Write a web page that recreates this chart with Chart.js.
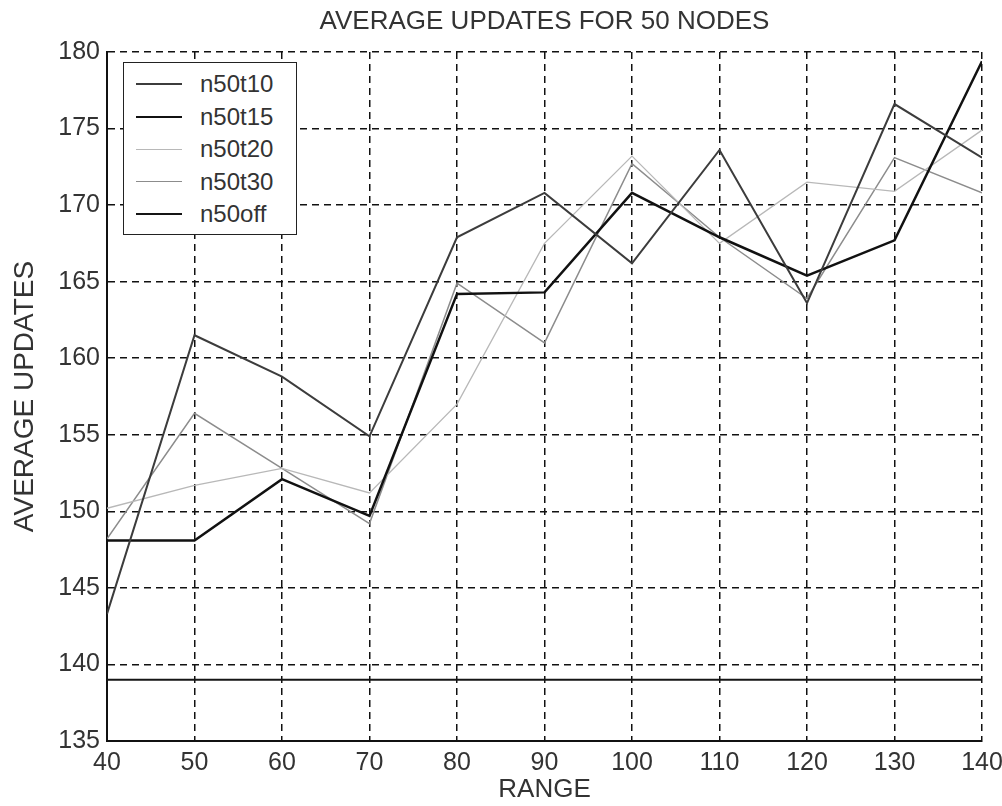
<!DOCTYPE html>
<html lang="en">
<head>
    <meta charset="UTF-8">
    <title>Average updates for 50 nodes</title>
    <script src="https://cdn.jsdelivr.net/npm/chart.js"></script>
    <style>
        body {
            margin: 0;
            background-color: #fff;
            font-family: "Liberation Sans", Arial, sans-serif;
        }
        #wrap {
            position: relative;
            width: 1002px;
            height: 806px;
        }
        #legendBox {
            position: absolute;
            left: 123px;
            top: 62px;
            width: 174px;
            height: 173px;
            background: #fff;
            border: 1.5px solid #222;
            padding-top: 5px;
            box-sizing: border-box;
        }
        .item {
            height: 32.5px;
            display: flex;
            align-items: center;
        }
        .sample {
            width: 46px;
            margin-left: 12px;
            margin-right: 18px;
        }
        .item span {
            font-size: 24px;
            color: #333;
        }
    </style>
</head>
<body>
    <div id="wrap">
        <canvas id="updatesChart" width="1002" height="806"></canvas>
        <div id="legendBox"></div>
    </div>
    <script>
        // 값은 그림에서 눈으로 읽은 것
        const ranges = [40, 50, 60, 70, 80, 90, 100, 110, 120, 130, 140];
        const n50t10 = [143.3, 161.5, 158.8, 154.9, 167.9, 170.8, 166.2, 173.6, 163.6, 176.6, 173.1];
        const n50t15 = [148.1, 148.1, 152.1, 149.7, 164.2, 164.3, 170.8, 167.9, 165.4, 167.7, 179.4];
        const n50t20 = [150.2, 151.7, 152.8, 151.2, 157.0, 167.5, 173.2, 167.5, 171.5, 170.9, 174.9];
        const n50t30 = [148.2, 156.4, 152.8, 149.2, 164.9, 161.0, 172.7, 167.9, 163.9, 173.1, 170.8];
        const n50off = [139, 139, 139, 139, 139, 139, 139, 139, 139, 139, 139];

        const names = ['n50t10', 'n50t15', 'n50t20', 'n50t30', 'n50off'];
        const values = [n50t10, n50t15, n50t20, n50t30, n50off];
        const colors = ['#3c3c3c', '#111111', '#b8b8b8', '#8c8c8c', '#151515'];
        const widths = [2, 2.5, 1.3, 1.5, 2];
        const titleText = 'AVERAGE UPDATES FOR 50 NODES';

        const datasets = names.map((name, i) => ({
            label: name,
            data: ranges.map((r, j) => ({ x: r, y: values[i][j] })),
            borderColor: colors[i],
            backgroundColor: colors[i],
            borderWidth: widths[i],
            pointRadius: 0,
            tension: 0,
            fill: false
        }));

        // 제목을 그래프 영역 가운데에 맞춤
        const centerTitle = {
            id: 'centerTitle',
            afterDraw(chart) {
                const c = chart.ctx;
                const area = chart.chartArea;
                c.save();
                c.font = '26px "Liberation Sans"';
                c.fillStyle = '#333';
                c.textAlign = 'center';
                c.textBaseline = 'middle';
                c.fillText(titleText, (area.left + area.right) / 2, 22);
                c.restore();
            }
        };

        const ctx = document.getElementById('updatesChart').getContext('2d');
        new Chart(ctx, {
            type: 'line',
            data: { datasets: datasets },
            options: {
                responsive: false,
                animation: false,
                layout: { padding: { top: 52, right: 0 } },
                plugins: {
                    legend: { display: false },
                    tooltip: { enabled: false },
                    title: { display: false }
                },
                scales: {
                    x: {
                        type: 'linear',
                        min: 40,
                        max: 140,
                        ticks: {
                            stepSize: 10,
                            color: '#333',
                            padding: 10,
                            font: { family: 'Liberation Sans', size: 25, lineHeight: 1 }
                        },
                        grid: { color: '#111', lineWidth: 1.5, drawTicks: false },
                        border: { display: true, color: '#111', width: 2, dash: [7, 5] },
                        title: {
                            display: true,
                            text: 'RANGE',
                            color: '#333',
                            font: { family: 'Liberation Sans', size: 26, lineHeight: 1 },
                            padding: { top: 1, bottom: 3 }
                        },
                        afterFit: (scale) => {
                            scale.height = 65;
                            scale.paddingRight = 20;
                        }
                    },
                    y: {
                        min: 135,
                        max: 180,
                        ticks: {
                            stepSize: 5,
                            color: '#333',
                            padding: 7,
                            font: { family: 'Liberation Sans', size: 25, lineHeight: 1 }
                        },
                        grid: { color: '#111', lineWidth: 1.5, drawTicks: false },
                        border: { display: true, color: '#111', width: 2, dash: [7, 5] },
                        title: {
                            display: true,
                            text: 'AVERAGE UPDATES',
                            color: '#333',
                            font: { family: 'Liberation Sans', size: 28, lineHeight: 1 },
                            padding: { top: 11, bottom: 0 }
                        },
                        afterFit: (scale) => { scale.width = 107; }
                    }
                }
            },
            plugins: [centerTitle]
        });

        // 범례는 그래프 안쪽 왼쪽 위에 html로
        const box = document.getElementById('legendBox');
        datasets.forEach(ds => {
            box.innerHTML += `<div class="item"><div class="sample" style="border-top:${ds.borderWidth}px solid ${ds.borderColor}"></div><span>${ds.label}</span></div>`;
        });
    </script>
</body>
</html>
